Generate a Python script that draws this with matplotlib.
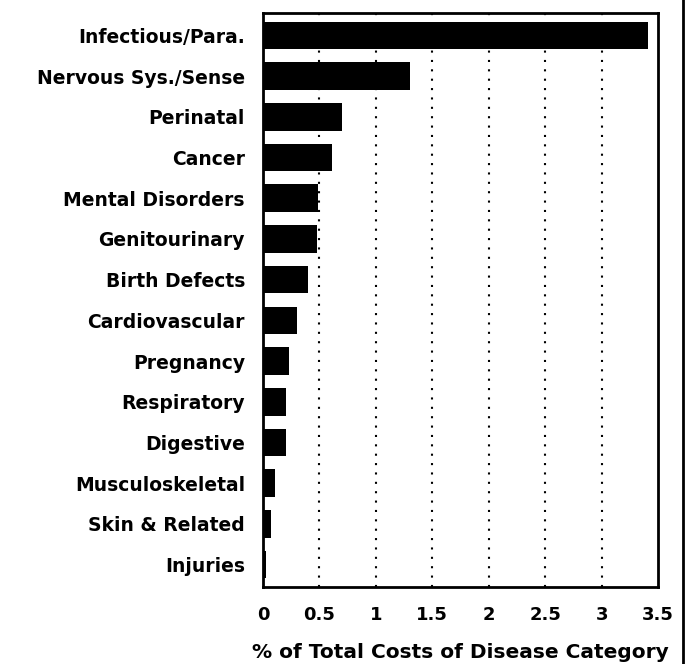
import numpy as np
import matplotlib
matplotlib.use("Agg")
import matplotlib.pyplot as plt
from matplotlib.lines import Line2D

categories = ["Infectious/Para.", "Nervous Sys./Sense", "Perinatal", "Cancer",
              "Mental Disorders", "Genitourinary", "Birth Defects", "Cardiovascular",
              "Pregnancy", "Respiratory", "Digestive", "Musculoskeletal",
              "Skin & Related", "Injuries"]
pct_costs = [3.41, 1.30, 0.70, 0.61, 0.49, 0.48, 0.40, 0.30, 0.23, 0.20, 0.20,
             0.11, 0.07, 0.03]
xticks = [0, 0.5, 1, 1.5, 2, 2.5, 3, 3.5]
xtick_labels = ["0", "0.5", "1", "1.5", "2", "2.5", "3", "3.5"]

fig = plt.figure(figsize=(6.93, 6.64), dpi=100)
ax = fig.add_axes([263/693, 1 - 587/664, (658 - 263)/693, (587 - 13)/664])

ypos = np.arange(len(categories))
ax.barh(ypos, pct_costs, height=0.68, color="black", zorder=3)
ax.set_ylim(len(categories) - 0.5 + 0.05, -0.5 - 0.05)
ax.set_xlim(0, 3.5)

ax.set_yticks(ypos)
ax.set_yticklabels(categories, fontsize=13.5, fontweight="heavy")
ax.set_xticks(xticks)
ax.set_xticklabels(xtick_labels, fontsize=13, fontweight="heavy")
ax.tick_params(axis="y", length=0, pad=13)
ax.tick_params(axis="x", length=0, pad=14)

for x in xticks[1:-1]:
    ax.axvline(x, color="black", linestyle=(0, (1, 3.5)), linewidth=1.5, zorder=1)

for s in ax.spines.values():
    s.set_linewidth(2)

ax.set_xlabel("% of Total Costs of Disease Category", fontsize=14.5,
              fontweight="heavy", labelpad=13)

# border line on the right edge of the page
fig.add_artist(Line2D([683/693, 683/693], [0, 1], color="black", linewidth=2,
                      transform=fig.transFigure))

fig.savefig("out.png", dpi=100)
